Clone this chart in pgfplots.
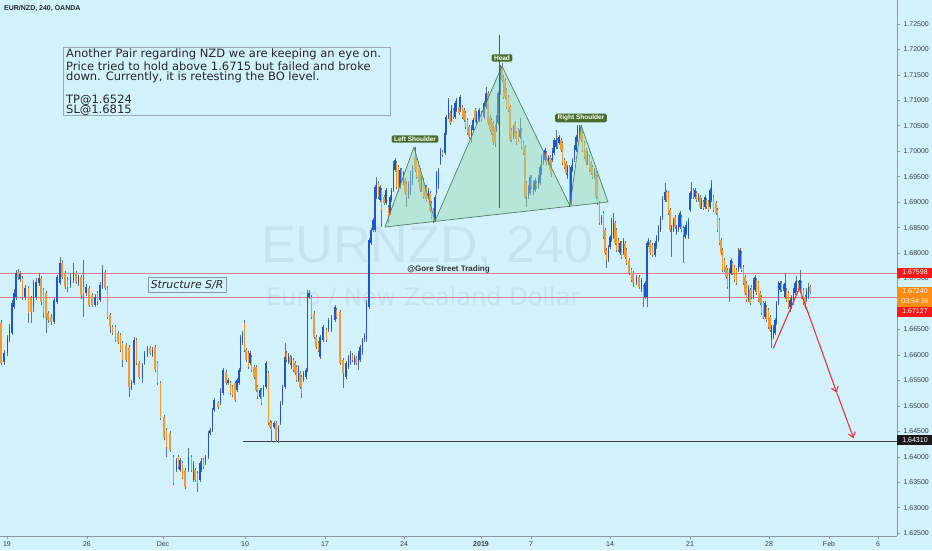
\documentclass[border=0pt]{standalone}
\usepackage{pgfplots}
\pgfplotsset{compat=1.18}
\usepackage{pgfplotstable}
\usepackage{fontspec}
\setmainfont{Liberation Sans}
\newfontfamily\dejavu{DejaVu Sans}
\usetikzlibrary{arrows.meta}
\definecolor{bg}{RGB}{210,243,254}
\definecolor{upc}{RGB}{30,86,206}
\definecolor{dnc}{RGB}{246,152,50}
\definecolor{wickc}{RGB}{100,114,124}
\definecolor{wm}{RGB}{196,228,241}
\definecolor{lvl}{RGB}{238,80,92}
\definecolor{lblred}{RGB}{245,25,25}
\definecolor{lblor}{RGB}{255,140,20}
\definecolor{patfill}{RGB}{150,215,175}
\definecolor{patline}{RGB}{85,125,95}
\definecolor{tagg}{RGB}{72,110,45}
\definecolor{arr}{RGB}{228,55,55}
\definecolor{axc}{RGB}{140,152,160}
\definecolor{txt}{RGB}{55,60,65}

\pgfplotstableread{
x o h l c
1 1.6663 1.6669 1.6580 1.6584
4 1.6586 1.6610 1.6580 1.6604
7.5 1.6604 1.6639 1.6598 1.6635
9.5 1.6630 1.6661 1.6626 1.6655
12 1.6643 1.6708 1.6639 1.6702
14 1.6694 1.6729 1.6690 1.6722
16 1.6714 1.6767 1.6708 1.6761
18 1.6763 1.6769 1.6747 1.6753
20 1.6749 1.6765 1.6743 1.6759
22.5 1.6751 1.6755 1.6708 1.6714
25 1.6714 1.6737 1.6708 1.6731
28.5 1.6731 1.6735 1.6663 1.6682
31 1.6712 1.6716 1.6663 1.6684
33.5 1.6694 1.6747 1.6684 1.6741
36 1.6714 1.6751 1.6708 1.6743
39 1.6741 1.6761 1.6735 1.6751
41 1.6751 1.6755 1.6698 1.6704
43.5 1.6728 1.6731 1.6672 1.6682
46 1.6722 1.6726 1.6643 1.6672
48 1.6682 1.6686 1.6663 1.6669
51 1.6674 1.6680 1.6659 1.6665
54 1.6665 1.6712 1.6661 1.6708
57 1.6704 1.6757 1.6700 1.6753
60 1.6741 1.6792 1.6737 1.6781
62 1.6781 1.6787 1.6749 1.6753
65 1.6761 1.6765 1.6729 1.6733
67.5 1.6747 1.6753 1.6724 1.6733
70.5 1.6737 1.6759 1.6731 1.6753
73.5 1.6747 1.6781 1.6741 1.6763
76 1.6761 1.6765 1.6739 1.6743
78.5 1.6741 1.6757 1.6735 1.6753
81 1.6753 1.6757 1.6710 1.6718
83.5 1.6733 1.6787 1.6674 1.6722
86 1.6722 1.6739 1.6716 1.6733
89 1.6731 1.6735 1.6694 1.6698
92 1.6718 1.6722 1.6694 1.6698
95 1.6698 1.6720 1.6694 1.6714
97.5 1.6722 1.6726 1.6698 1.6704
100 1.6708 1.6743 1.6704 1.6737
102.5 1.6733 1.6777 1.6729 1.6767
105 1.6763 1.6767 1.6728 1.6731
107.5 1.6731 1.6735 1.6670 1.6674
110 1.6678 1.6682 1.6643 1.6655
112.5 1.6655 1.6659 1.6639 1.6643
115.5 1.6655 1.6659 1.6626 1.6630
118 1.6643 1.6647 1.6622 1.6626
120.5 1.6639 1.6643 1.6606 1.6610
122.5 1.6624 1.6628 1.6576 1.6590
126 1.6620 1.6624 1.6586 1.6590
129 1.6616 1.6620 1.6517 1.6537
131.5 1.6535 1.6551 1.6531 1.6547
134 1.6545 1.6635 1.6541 1.6630
136.5 1.6630 1.6634 1.6580 1.6584
139 1.6584 1.6588 1.6553 1.6557
142.5 1.6555 1.6584 1.6545 1.6580
144.5 1.6584 1.6608 1.6580 1.6604
147.5 1.6600 1.6618 1.6596 1.6614
150 1.6614 1.6618 1.6600 1.6604
152.5 1.6600 1.6616 1.6596 1.6610
155 1.6616 1.6620 1.6567 1.6571
157.5 1.6584 1.6588 1.6541 1.6545
160.5 1.6545 1.6549 1.6473 1.6477
164 1.6479 1.6483 1.6433 1.6439
166.5 1.6453 1.6457 1.6400 1.6420
170 1.6447 1.6451 1.6410 1.6414
173.5 1.6400 1.6404 1.6345 1.6349
176.5 1.6374 1.6398 1.6370 1.6394
178.5 1.6400 1.6404 1.6376 1.6380
180 1.6374 1.6398 1.6370 1.6394
182.5 1.6388 1.6392 1.6356 1.6360
185 1.6374 1.6378 1.6337 1.6341
188.5 1.6374 1.6418 1.6370 1.6400
191.5 1.6400 1.6404 1.6370 1.6374
193.5 1.6355 1.6392 1.6351 1.6388
195 1.6374 1.6378 1.6351 1.6355
197.5 1.6368 1.6372 1.6331 1.6349
200 1.6355 1.6392 1.6351 1.6388
201.5 1.6374 1.6398 1.6370 1.6394
203.5 1.6394 1.6398 1.6376 1.6380
205.5 1.6388 1.6404 1.6384 1.6400
208.5 1.6400 1.6451 1.6396 1.6447
210 1.6447 1.6457 1.6443 1.6453
212.5 1.6453 1.6496 1.6449 1.6492
214 1.6492 1.6516 1.6488 1.6512
218 1.6506 1.6510 1.6494 1.6498
220.5 1.6506 1.6535 1.6502 1.6531
223 1.6525 1.6575 1.6521 1.6571
226 1.6567 1.6571 1.6541 1.6545
228 1.6545 1.6555 1.6541 1.6551
230.5 1.6545 1.6549 1.6521 1.6525
232.5 1.6537 1.6541 1.6517 1.6521
235 1.6545 1.6549 1.6508 1.6512
237 1.6531 1.6555 1.6527 1.6551
239 1.6545 1.6575 1.6541 1.6571
240.5 1.6571 1.6639 1.6567 1.6635
242.5 1.6624 1.6647 1.6620 1.6643
244.5 1.6663 1.6669 1.6606 1.6610
246 1.6610 1.6614 1.6586 1.6590
248.5 1.6604 1.6608 1.6572 1.6576
250 1.6584 1.6608 1.6580 1.6604
251.5 1.6596 1.6600 1.6567 1.6571
254 1.6576 1.6580 1.6553 1.6557
256 1.6576 1.6580 1.6527 1.6531
257.5 1.6537 1.6541 1.6514 1.6517
260 1.6517 1.6535 1.6514 1.6531
261.5 1.6531 1.6535 1.6502 1.6506
263.5 1.6521 1.6541 1.6517 1.6537
266 1.6537 1.6588 1.6533 1.6584
268.5 1.6565 1.6569 1.6463 1.6467
270 1.6469 1.6473 1.6455 1.6459
271.5 1.6467 1.6471 1.6429 1.6453
274 1.6459 1.6471 1.6455 1.6467
276 1.6467 1.6471 1.6429 1.6433
278.5 1.6433 1.6463 1.6427 1.6459
280.5 1.6467 1.6510 1.6463 1.6506
282.5 1.6506 1.6541 1.6502 1.6537
285 1.6537 1.6624 1.6533 1.6596
286.5 1.6604 1.6608 1.6586 1.6590
288.5 1.6586 1.6604 1.6582 1.6600
290 1.6596 1.6600 1.6580 1.6584
291.5 1.6576 1.6598 1.6572 1.6594
293.5 1.6590 1.6594 1.6567 1.6571
295 1.6584 1.6588 1.6561 1.6565
296.5 1.6576 1.6580 1.6547 1.6551
298.5 1.6551 1.6580 1.6547 1.6576
300 1.6565 1.6569 1.6533 1.6537
301.5 1.6557 1.6561 1.6515 1.6525
303.5 1.6551 1.6569 1.6547 1.6565
306 1.6557 1.6575 1.6553 1.6571
307.5 1.6571 1.6728 1.6567 1.6722
309 1.6714 1.6728 1.6710 1.6722
311.5 1.6714 1.6718 1.6670 1.6674
314 1.6682 1.6686 1.6631 1.6635
316 1.6635 1.6639 1.6612 1.6616
318.5 1.6624 1.6628 1.6606 1.6610
320 1.6596 1.6639 1.6592 1.6635
323 1.6630 1.6659 1.6626 1.6655
326.5 1.6649 1.6653 1.6626 1.6630
328.5 1.6649 1.6672 1.6645 1.6669
331.5 1.6649 1.6678 1.6645 1.6674
335 1.6669 1.6698 1.6665 1.6694
336.5 1.6688 1.6692 1.6670 1.6674
340 1.6684 1.6688 1.6580 1.6584
343 1.6590 1.6594 1.6535 1.6565
346 1.6557 1.6588 1.6553 1.6584
348.5 1.6576 1.6600 1.6572 1.6596
350.5 1.6584 1.6608 1.6580 1.6604
352.5 1.6600 1.6604 1.6586 1.6590
354.5 1.6584 1.6600 1.6580 1.6596
356 1.6594 1.6598 1.6580 1.6584
358.5 1.6584 1.6608 1.6571 1.6604
360 1.6590 1.6620 1.6586 1.6616
362.5 1.6604 1.6634 1.6600 1.6630
364.5 1.6630 1.6643 1.6626 1.6639
366.5 1.6630 1.6708 1.6626 1.6702
369 1.6694 1.6830 1.6690 1.6826
371 1.6820 1.6850 1.6816 1.6846
373 1.6846 1.6869 1.6842 1.6865
375 1.6846 1.6934 1.6842 1.6930
376.5 1.6910 1.6949 1.6906 1.6940
378.5 1.6938 1.6942 1.6906 1.6910
380 1.6904 1.6934 1.6900 1.6930
381.5 1.6924 1.6928 1.6851 1.6885
384 1.6910 1.6914 1.6894 1.6898
386 1.6898 1.6928 1.6894 1.6924
388.5 1.6890 1.6894 1.6859 1.6871
390 1.6879 1.6914 1.6875 1.6910
391.5 1.6904 1.6928 1.6900 1.6924
393.5 1.6924 1.6981 1.6920 1.6977
395 1.6963 1.6987 1.6959 1.6983
396.5 1.6977 1.6981 1.6926 1.6930
398.5 1.6969 1.6973 1.6920 1.6924
400 1.6930 1.6967 1.6926 1.6963
401.5 1.6963 1.6967 1.6940 1.6944
403.5 1.6938 1.6961 1.6934 1.6957
405 1.6944 1.6948 1.6914 1.6918
406.5 1.6938 1.6942 1.6890 1.6910
408.5 1.6910 1.6942 1.6906 1.6938
410.5 1.6918 1.6961 1.6914 1.6957
412.5 1.6938 1.6973 1.6934 1.6969
415 1.6989 1.7008 1.6959 1.6963
416.5 1.6983 1.6987 1.6945 1.6949
418.5 1.6977 1.6981 1.6940 1.6944
420 1.6963 1.6967 1.6920 1.6924
421.5 1.6924 1.6953 1.6920 1.6949
423.5 1.6944 1.6948 1.6906 1.6910
425 1.6930 1.6934 1.6906 1.6910
426.5 1.6930 1.6934 1.6900 1.6904
428.5 1.6910 1.6928 1.6906 1.6924
430 1.6918 1.6922 1.6881 1.6885
431.5 1.6898 1.6902 1.6867 1.6871
433.5 1.6885 1.6889 1.6859 1.6865
435 1.6865 1.6914 1.6861 1.6910
436.5 1.6918 1.6961 1.6914 1.6957
438.5 1.6930 1.6967 1.6926 1.6963
440.5 1.6977 1.7007 1.6973 1.7003
442.5 1.6999 1.7003 1.6989 1.6993
445 1.6997 1.7040 1.6993 1.7036
446 1.7036 1.7071 1.7032 1.7067
448.5 1.7067 1.7104 1.7063 1.7101
450 1.7075 1.7079 1.7051 1.7055
451.5 1.7061 1.7091 1.7057 1.7087
453.5 1.7081 1.7085 1.7063 1.7067
455 1.7067 1.7099 1.7063 1.7095
456.5 1.7081 1.7104 1.7077 1.7101
459 1.7087 1.7101 1.7071 1.7075
460 1.7081 1.7110 1.7077 1.7106
462.5 1.7087 1.7091 1.7063 1.7067
464 1.7081 1.7085 1.7057 1.7061
465.5 1.7075 1.7079 1.7043 1.7047
467.5 1.7061 1.7065 1.7032 1.7036
469 1.7047 1.7051 1.7024 1.7028
471.5 1.7028 1.7051 1.7016 1.7047
473 1.7042 1.7065 1.7038 1.7061
475 1.7081 1.7085 1.7057 1.7061
476.5 1.7055 1.7079 1.7051 1.7075
479 1.7061 1.7085 1.7057 1.7081
481.5 1.7075 1.7079 1.7057 1.7061
484 1.7067 1.7099 1.7063 1.7095
486 1.7087 1.7126 1.7083 1.7114
488 1.7114 1.7118 1.7051 1.7055
490 1.7067 1.7071 1.7038 1.7042
491.5 1.7061 1.7065 1.7032 1.7036
493 1.7055 1.7059 1.7012 1.7016
495 1.7047 1.7051 1.7008 1.7016
496.5 1.7042 1.7071 1.7038 1.7067
498 1.7055 1.7118 1.7051 1.7114
500.5 1.7114 1.7169 1.7110 1.7160
502 1.7165 1.7173 1.7136 1.7140
503.5 1.7146 1.7150 1.7102 1.7106
505 1.7140 1.7144 1.7102 1.7106
506.5 1.7120 1.7124 1.7083 1.7087
508.5 1.7106 1.7110 1.7077 1.7081
510 1.7087 1.7091 1.7018 1.7022
511.5 1.7042 1.7046 1.7018 1.7022
513.5 1.7028 1.7051 1.7024 1.7047
515 1.7055 1.7059 1.7024 1.7028
516.5 1.7036 1.7040 1.7012 1.7016
518.5 1.7042 1.7046 1.7018 1.7022
520 1.7028 1.7065 1.7024 1.7042
521.5 1.7042 1.7046 1.7004 1.7008
523.5 1.7016 1.7020 1.6993 1.6997
525 1.7008 1.7012 1.6906 1.6910
526.5 1.6938 1.6942 1.6890 1.6910
528.5 1.6910 1.6934 1.6906 1.6930
530 1.6918 1.6953 1.6914 1.6949
531.5 1.6949 1.6953 1.6926 1.6930
533.5 1.6918 1.6942 1.6914 1.6938
535 1.6924 1.6948 1.6920 1.6944
536.5 1.6938 1.6942 1.6926 1.6930
538.5 1.6930 1.6953 1.6926 1.6949
540 1.6938 1.6973 1.6934 1.6969
541.5 1.6957 1.6993 1.6953 1.6989
543.5 1.6977 1.7001 1.6973 1.6997
545 1.6983 1.7007 1.6979 1.7003
546.5 1.6997 1.7001 1.6973 1.6977
548.5 1.6977 1.6993 1.6973 1.6989
550 1.6989 1.6993 1.6959 1.6963
551 1.6983 1.6987 1.6949 1.6957
552.5 1.6983 1.7007 1.6979 1.7003
554 1.6997 1.7026 1.6993 1.7022
556 1.7008 1.7042 1.7004 1.7022
557.5 1.7022 1.7026 1.7004 1.7008
559 1.7016 1.7032 1.7012 1.7028
561 1.7022 1.7026 1.6999 1.7003
562.5 1.7016 1.7020 1.6973 1.6977
564.5 1.6983 1.6987 1.6965 1.6969
566 1.6977 1.6981 1.6953 1.6957
567.5 1.6949 1.6973 1.6945 1.6969
569.5 1.6969 1.6973 1.6890 1.6898
571 1.6898 1.6973 1.6894 1.6969
572.5 1.6963 1.6987 1.6959 1.6983
574.5 1.6983 1.7012 1.6979 1.7008
576 1.7003 1.7032 1.6999 1.7028
577.5 1.7022 1.7051 1.7018 1.7047
579.5 1.7036 1.7051 1.7032 1.7047
581 1.7047 1.7051 1.7018 1.7022
582.5 1.7036 1.7040 1.6999 1.7003
584.5 1.7016 1.7020 1.6985 1.6989
586 1.7003 1.7007 1.6973 1.6977
587.5 1.6977 1.7001 1.6973 1.6997
589.5 1.6989 1.6993 1.6959 1.6963
591 1.6977 1.6981 1.6953 1.6957
592.5 1.6969 1.6973 1.6945 1.6949
594.5 1.6949 1.6967 1.6945 1.6963
596 1.6957 1.6961 1.6906 1.6910
597.5 1.6949 1.6953 1.6894 1.6898
599.5 1.6898 1.6902 1.6855 1.6859
601.5 1.6859 1.6875 1.6855 1.6871
603.5 1.6879 1.6883 1.6828 1.6832
605 1.6846 1.6850 1.6796 1.6800
606.5 1.6806 1.6810 1.6771 1.6787
608.5 1.6787 1.6816 1.6783 1.6812
610 1.6812 1.6836 1.6808 1.6832
611.5 1.6826 1.6869 1.6822 1.6865
613.5 1.6832 1.6879 1.6828 1.6865
615 1.6859 1.6863 1.6816 1.6820
616.5 1.6846 1.6850 1.6802 1.6806
618.5 1.6826 1.6830 1.6802 1.6806
620 1.6800 1.6824 1.6796 1.6820
621.5 1.6820 1.6824 1.6788 1.6792
623.5 1.6800 1.6830 1.6796 1.6826
625 1.6820 1.6824 1.6788 1.6792
626.5 1.6806 1.6810 1.6777 1.6781
629 1.6787 1.6791 1.6757 1.6761
631.5 1.6767 1.6771 1.6743 1.6747
633 1.6761 1.6765 1.6733 1.6741
636.5 1.6741 1.6757 1.6737 1.6753
639 1.6753 1.6757 1.6729 1.6733
641.5 1.6728 1.6751 1.6724 1.6747
643.5 1.6733 1.6737 1.6694 1.6714
645 1.6714 1.6745 1.6710 1.6741
647 1.6714 1.6824 1.6694 1.6820
648.5 1.6816 1.6830 1.6812 1.6826
650 1.6822 1.6826 1.6796 1.6800
652.5 1.6816 1.6820 1.6792 1.6796
655 1.6796 1.6824 1.6792 1.6820
656.5 1.6812 1.6836 1.6808 1.6832
658.5 1.6826 1.6856 1.6822 1.6851
660.5 1.6846 1.6873 1.6842 1.6869
662.5 1.6869 1.6912 1.6865 1.6908
665 1.6904 1.6938 1.6900 1.6920
666.5 1.6920 1.6924 1.6900 1.6904
668.5 1.6918 1.6922 1.6875 1.6879
670 1.6885 1.6889 1.6842 1.6846
671.5 1.6846 1.6856 1.6792 1.6851
673.5 1.6846 1.6869 1.6842 1.6865
675 1.6871 1.6875 1.6848 1.6851
676.5 1.6840 1.6856 1.6836 1.6851
678.5 1.6846 1.6875 1.6842 1.6871
680 1.6851 1.6883 1.6848 1.6879
681.5 1.6871 1.6875 1.6842 1.6846
683.5 1.6850 1.6854 1.6781 1.6836
685 1.6832 1.6856 1.6828 1.6851
686.5 1.6840 1.6863 1.6836 1.6859
688.5 1.6832 1.6869 1.6828 1.6865
690 1.6885 1.6922 1.6881 1.6918
691.5 1.6910 1.6940 1.6906 1.6930
693.5 1.6924 1.6928 1.6906 1.6910
695 1.6910 1.6928 1.6906 1.6924
696.5 1.6918 1.6922 1.6900 1.6904
698.5 1.6904 1.6918 1.6900 1.6914
700 1.6910 1.6914 1.6887 1.6890
701.5 1.6890 1.6908 1.6887 1.6904
703.5 1.6900 1.6904 1.6885 1.6889
705 1.6890 1.6914 1.6887 1.6910
706.5 1.6904 1.6908 1.6887 1.6890
708.5 1.6900 1.6904 1.6881 1.6885
710 1.6890 1.6928 1.6887 1.6924
711.5 1.6904 1.6944 1.6900 1.6938
713.5 1.6910 1.6914 1.6881 1.6885
716 1.6898 1.6902 1.6875 1.6879
717.5 1.6885 1.6889 1.6842 1.6846
719.5 1.6865 1.6869 1.6816 1.6820
721 1.6826 1.6830 1.6796 1.6800
722.5 1.6806 1.6810 1.6763 1.6767
724.5 1.6787 1.6791 1.6763 1.6767
726 1.6773 1.6777 1.6749 1.6753
727.5 1.6767 1.6771 1.6729 1.6733
729.5 1.6733 1.6771 1.6704 1.6767
731 1.6761 1.6791 1.6757 1.6787
732.5 1.6781 1.6785 1.6757 1.6761
734.5 1.6773 1.6777 1.6743 1.6747
736.5 1.6767 1.6771 1.6737 1.6741
738.5 1.6767 1.6810 1.6763 1.6792
740 1.6773 1.6810 1.6769 1.6806
741.5 1.6800 1.6804 1.6763 1.6767
743.5 1.6773 1.6777 1.6737 1.6741
745 1.6753 1.6757 1.6718 1.6722
746.5 1.6741 1.6745 1.6704 1.6708
748.5 1.6708 1.6737 1.6704 1.6733
750 1.6728 1.6731 1.6698 1.6702
751.5 1.6733 1.6737 1.6710 1.6714
753.5 1.6714 1.6751 1.6710 1.6747
755 1.6728 1.6757 1.6724 1.6753
756.5 1.6747 1.6751 1.6718 1.6722
758.5 1.6741 1.6745 1.6704 1.6708
760 1.6722 1.6726 1.6698 1.6702
761.5 1.6714 1.6718 1.6678 1.6682
763.5 1.6702 1.6706 1.6670 1.6674
765 1.6674 1.6706 1.6670 1.6702
766.5 1.6694 1.6698 1.6665 1.6669
768.5 1.6688 1.6692 1.6651 1.6655
770 1.6674 1.6678 1.6645 1.6649
771.5 1.6630 1.6659 1.6614 1.6655
773.5 1.6635 1.6659 1.6631 1.6655
775 1.6643 1.6672 1.6639 1.6669
776.5 1.6663 1.6706 1.6659 1.6702
778.5 1.6702 1.6745 1.6698 1.6741
780 1.6728 1.6745 1.6724 1.6741
781.5 1.6741 1.6745 1.6724 1.6728
783.5 1.6729 1.6739 1.6726 1.6735
785 1.6714 1.6761 1.6710 1.6741
786.5 1.6728 1.6731 1.6704 1.6708
788.5 1.6722 1.6726 1.6690 1.6694
790 1.6694 1.6712 1.6684 1.6708
791.5 1.6694 1.6718 1.6690 1.6714
793.5 1.6702 1.6731 1.6698 1.6728
795 1.6722 1.6745 1.6718 1.6741
796.5 1.6728 1.6755 1.6724 1.6747
798.5 1.6741 1.6745 1.6724 1.6728
800 1.6728 1.6767 1.6724 1.6747
801.5 1.6741 1.6745 1.6710 1.6714
803.5 1.6728 1.6731 1.6698 1.6702
805 1.6714 1.6718 1.6690 1.6694
806.5 1.6708 1.6731 1.6704 1.6728
808.5 1.6714 1.6741 1.6710 1.6733
810 1.6733 1.6737 1.6720 1.6724
}\candles

\begin{document}
\begin{tikzpicture}[x=1pt,y=1pt]
\fill[bg] (0,-14) rectangle (932,536);
\useasboundingbox (0,-14) rectangle (932,536);
% watermark
\node[font=\fontsize{52}{52}\selectfont, text=wm, anchor=base west, inner sep=0] at (261,274) {EURNZD, 240};
\node[font=\dejavu\fontsize{24}{24}\selectfont, text=wm, anchor=base west, inner sep=0] at (266,231) {Euro / New Zealand Dollar};
% horizontal levels (1.67598, 1.67127, 1.64310), behind the candles
\fill[lvl, opacity=0.75] (0,261.9) rectangle (897,262.9);
\fill[lvl, opacity=0.75] (0,238.0) rectangle (897,239.0);
\fill[black!75] (243,94.6) rectangle (897,95.4);
\begin{axis}[
  at={(0,0)}, anchor=south west, scale only axis,
  width=897pt, height=536pt,
  xmin=0, xmax=897, ymin=1.62445, ymax=1.72969,
  axis x line*=bottom, axis y line*=right,
  axis line style={axc, line width=0.8pt},
  tick align=outside, major tick length=3pt,
  tick style={axc, line width=0.6pt},
  tick label style={font=\fontsize{7}{8}\selectfont, text=txt},
  xtick={7,87,163,245,325,404,481,531,610,690,769,829,878},
  xticklabels={19,26,Dec,10,17,24,\textbf{2019},7,14,21,28,Feb,6},
  ytick={1.625,1.630,1.635,1.640,1.645,1.650,1.655,1.660,1.665,1.670,1.675,1.680,1.685,1.690,1.695,1.700,1.705,1.710,1.715,1.720,1.725},
  yticklabels={1.62500,1.63000,1.63500,1.64000,1.64500,1.65000,1.65500,1.66000,1.66500,{},1.67500,1.68000,1.68500,1.69000,1.69500,1.70000,1.70500,1.71000,1.71500,1.72000,1.72500},
  yticklabel style={anchor=west, xshift=0pt},
  xticklabel style={anchor=north, yshift=1pt},
]
% wicks
\addplot[draw=none, mark=none, forget plot,
  error bars/.cd, y dir=minus, y explicit, error mark=none,
  error bar style={draw=wickc, line width=0.7pt}]
  table[x=x, y=h, y error expr=\thisrow{h}-\thisrow{l}] {\candles};
% up bodies
\addplot[draw=none, mark=none, forget plot,
  restrict expr to domain={\thisrow{c}-\thisrow{o}}{0:1},
  error bars/.cd, y dir=minus, y explicit, error mark=none,
  error bar style={draw=upc, line width=1.7pt}]
  table[x=x, y expr={max(\thisrow{o},\thisrow{c})}, y error expr={abs(\thisrow{c}-\thisrow{o})}] {\candles};
% down bodies
\addplot[draw=none, mark=none, forget plot,
  restrict expr to domain={\thisrow{c}-\thisrow{o}}{-1:0},
  error bars/.cd, y dir=minus, y explicit, error mark=none,
  error bar style={draw=dnc, line width=1.7pt}]
  table[x=x, y expr={max(\thisrow{o},\thisrow{c})}, y error expr={abs(\thisrow{c}-\thisrow{o})}] {\candles};
\end{axis}
% title
\node[anchor=west, font=\bfseries\fontsize{7}{8}\selectfont, text=black!85, inner sep=0] at (4,527) {EUR/NZD, 240, OANDA};
% text box
\draw[axc!85, line width=0.7pt] (63,489) rectangle (390,421);
\node[anchor=north west, align=left, inner sep=0, font=\dejavu\fontsize{11.5}{10.6}\selectfont, text=black!85] at (66,487) {Another Pair regarding NZD we are keeping an eye on.\\Price tried to hold above 1.6715 but failed and broke\\down. Currently, it is retesting the BO level.\\[10.6pt]TP@1.6524\\SL@1.6815};
% structure box
\node[draw=axc, line width=0.6pt, anchor=west, inner xsep=2.5pt, inner ysep=0pt, minimum height=15pt, font=\dejavu\itshape\fontsize{10.9}{12}\selectfont, text=black!85] at (148,251.5) {Structure S/R};
% credit
\node[font=\bfseries\fontsize{8}{9}\selectfont, text=black!80] at (448.5,266.5) {@Gore Street Trading};
% head and shoulders
\fill[patfill, opacity=0.45] (385,309) -- (414,389) -- (435,315) -- (502,470) -- (570,330) -- (581,411) -- (608,334) -- cycle;
\draw[patline, line width=0.7pt, line join=round] (385,309) -- (414,389) -- (435,315) -- (502,470) -- (570,330) -- (581,411) -- (608,334) -- cycle;
\draw[patline!80!black, line width=0.7pt] (499,501) -- (499,328);
\node[fill=tagg, rounded corners=1.5pt, text=white, font=\bfseries\fontsize{6.5}{7}\selectfont, inner xsep=2.5pt, inner ysep=1.3pt] at (415,397) {Left Shoulder};
\node[fill=tagg, rounded corners=1.5pt, text=white, font=\bfseries\fontsize{6.5}{7}\selectfont, inner xsep=2.5pt, inner ysep=1.3pt] at (502,478) {Head};
\node[fill=tagg, rounded corners=1.5pt, text=white, font=\bfseries\fontsize{6.5}{7}\selectfont, inner xsep=2.5pt, inner ysep=1.3pt] at (581,418) {Right Shoulder};
% red projection
\draw[arr, line width=1.1pt, line join=round] (773.3,187.7) -- (799.3,247.7);
\draw[arr, line width=1.1pt, -{Straight Barb[length=5pt,width=7pt]}] (799.3,247.7) -- (836.8,143.2);
\draw[arr, line width=1.1pt, -{Straight Barb[length=5pt,width=7pt]}] (836.8,143.2) -- (853.7,97.6);
% price labels
\fill[lblred] (897,258.5) rectangle (932,268.5);
\node[text=white, font=\fontsize{7}{8}\selectfont, inner sep=0] at (915,263.5) {1.67598};
\fill[lblor] (897,229.5) rectangle (932,249.5);
\node[text=white, font=\fontsize{7}{8}\selectfont, inner sep=0] at (915,244.5) {1.67240};
\node[text=white, font=\fontsize{7}{8}\selectfont, inner sep=0] at (915,234.5) {03:54:36};
\fill[lblred] (897,219.5) rectangle (932,229.5);
\node[text=white, font=\fontsize{7}{8}\selectfont, inner sep=0] at (915,224.5) {1.67127};
\fill[black!90] (897,91) rectangle (932,101);
\node[text=white, font=\fontsize{7}{8}\selectfont, inner sep=0] at (915,96) {1.64310};
\end{tikzpicture}
\end{document}
